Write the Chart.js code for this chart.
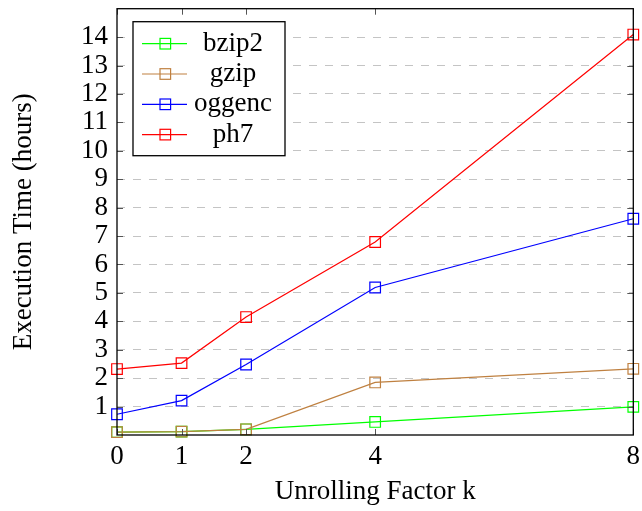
<!DOCTYPE html>
<html>
<head>
<meta charset="utf-8">
<script src="https://cdn.jsdelivr.net/npm/chart.js@4/dist/chart.umd.min.js"></script>
<style>
  html, body { margin: 0; padding: 0; background: #fff; }
</style>
</head>
<body>
<canvas id="chart" width="642" height="511"></canvas>
<script>
// data
const factors = [0, 1, 2, 4, 8];
const bzip2 = [0.10, 0.12, 0.20, 0.46, 0.99];
const gzip = [0.10, 0.12, 0.20, 1.85, 2.33];
const oggenc = [0.73, 1.21, 2.48, 5.19, 7.61];
const ph7 = [2.32, 2.53, 4.15, 6.79, 14.09];
const yTickValues = [1, 2, 3, 4, 5, 6, 7, 8, 9, 10, 11, 12, 13, 14];

const FONT = "'Liberation Serif', 'Times New Roman', serif";
const FONT_SIZE = 27;

function series(label, values, color, order) {
    return {
        label: label,
        data: factors.map((x, i) => ({ x: x, y: values[i] })),
        borderColor: color,
        borderWidth: 1.2,
        pointStyle: 'rect',
        pointRadius: 7.5,
        pointHoverRadius: 7.5,
        pointBorderWidth: 1.2,
        pointBorderColor: color,
        pointBackgroundColor: 'rgba(0,0,0,0)',
        tension: 0,
        clip: false,
        order: order
    };
}

// frame with inward ticks on all four sides
const framePlugin = {
    id: 'frame',
    afterDatasetsDraw(chart) {
        const ctx = chart.ctx;
        const a = chart.chartArea;
        const xs = chart.scales.x;
        const ys = chart.scales.y;
        const len = 6;
        ctx.save();
        ctx.strokeStyle = '#555';
        ctx.lineWidth = 1;
        ctx.beginPath();
        factors.forEach(v => {
            const px = Math.round(xs.getPixelForValue(v)) + 0.5;
            ctx.moveTo(px, a.bottom); ctx.lineTo(px, a.bottom - len);
            ctx.moveTo(px, a.top); ctx.lineTo(px, a.top + len);
        });
        yTickValues.forEach(v => {
            const py = Math.round(ys.getPixelForValue(v)) + 0.5;
            ctx.moveTo(a.left, py); ctx.lineTo(a.left + len, py);
            ctx.moveTo(a.right, py); ctx.lineTo(a.right - len, py);
        });
        ctx.stroke();
        ctx.strokeStyle = '#000';
        ctx.lineWidth = 1.3;
        ctx.strokeRect(a.left, a.top, a.right - a.left, a.bottom - a.top);
        ctx.restore();
    }
};

// pgfplots-style legend box, text centred
const legendPlugin = {
    id: 'boxLegend',
    afterDraw(chart) {
        const ctx = chart.ctx;
        const a = chart.chartArea;
        const x0 = a.left + 16, y0 = a.top + 13, w = 152, h = 134;
        ctx.save();
        ctx.fillStyle = '#fff';
        ctx.fillRect(x0, y0, w, h);
        ctx.strokeStyle = '#000';
        ctx.lineWidth = 1.3;
        ctx.strokeRect(x0, y0, w, h);
        ctx.font = FONT_SIZE + 'px ' + FONT;
        ctx.textAlign = 'center';
        ctx.textBaseline = 'alphabetic';
        chart.data.datasets.forEach((ds, i) => {
            const y = y0 + 22 + i * 30.3;
            ctx.strokeStyle = ds.borderColor;
            ctx.lineWidth = 1.2;
            ctx.beginPath();
            ctx.moveTo(x0 + 9, y); ctx.lineTo(x0 + 54, y);
            ctx.stroke();
            ctx.strokeRect(x0 + 27, y - 5.3, 10.6, 10.6);
            ctx.fillStyle = '#000';
            ctx.fillText(ds.label, x0 + 100, y + 7);
        });
        ctx.restore();
    }
};

new Chart(document.getElementById('chart'), {
    type: 'line',
    data: {
        datasets: [
            series('bzip2', bzip2, '#00ff00', 4),
            series('gzip', gzip, '#bf8040', 3),
            series('oggenc', oggenc, '#0000ff', 2),
            series('ph7', ph7, '#ff0000', 1)
        ]
    },
    options: {
        responsive: false,
        animation: false,
        layout: { padding: { top: 3, right: 7, left: 0, bottom: 0 } },
        plugins: { legend: { display: false }, tooltip: { enabled: false } },
        scales: {
            x: {
                type: 'linear',
                min: 0,
                max: 8,
                afterBuildTicks: s => { s.ticks = factors.map(v => ({ value: v })); },
                afterFit: s => { s.height = 76; s.paddingLeft = 0; s.paddingRight = 0; },
                grid: { display: false, drawTicks: false },
                border: { display: false },
                ticks: { color: '#000', padding: 6, autoSkip: false, maxRotation: 0, font: { family: FONT, size: FONT_SIZE } },
                title: {
                    display: true,
                    text: 'Unrolling Factor k',
                    color: '#000',
                    padding: { bottom: 3 },
                    font: { family: FONT, size: FONT_SIZE }
                }
            },
            y: {
                min: 0,
                max: 15,
                afterBuildTicks: s => { s.ticks = yTickValues.map(v => ({ value: v })); },
                afterFit: s => { s.width = 117; s.paddingTop = 0; s.paddingBottom = 0; },
                grid: { color: '#c4c4c4', lineWidth: 1, drawTicks: false },
                border: { display: false, dash: [8, 8] },
                ticks: { color: '#000', padding: 9, autoSkip: false, font: { family: FONT, size: FONT_SIZE } },
                title: {
                    display: true,
                    text: 'Execution Time (hours)',
                    color: '#000',
                    padding: { top: 8 },
                    font: { family: FONT, size: FONT_SIZE }
                }
            }
        }
    },
    plugins: [framePlugin, legendPlugin]
});
</script>
</body>
</html>
